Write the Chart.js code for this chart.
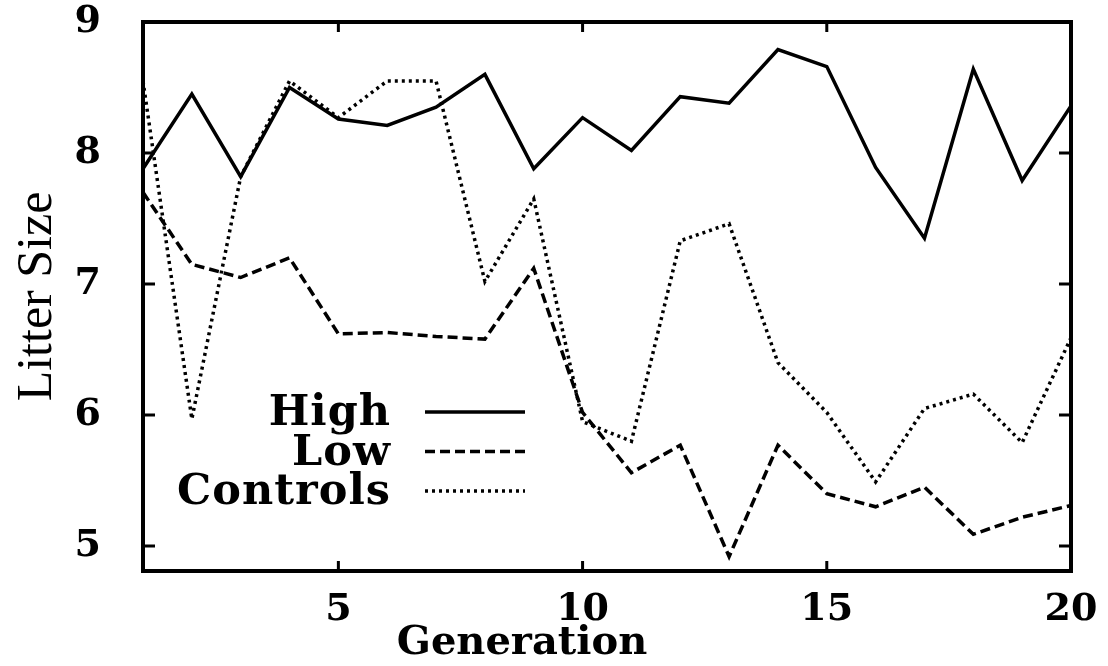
<!DOCTYPE html>
<html>
<head>
<meta charset="utf-8">
<script src="https://cdn.jsdelivr.net/npm/chart.js@4.4.1/dist/chart.umd.min.js"></script>
<style>
    body { margin: 0; background: #fff; }
</style>
</head>
<body>
<canvas id="grafico-litter" width="1108" height="666"></canvas>
<script>
var generazioni = [1, 2, 3, 4, 5, 6, 7, 8, 9, 10, 11, 12, 13, 14, 15, 16, 17, 18, 19, 20];
var high = [7.88, 8.45, 7.82, 8.5, 8.26, 8.21, 8.35, 8.6, 7.88, 8.27, 8.02, 8.43, 8.38, 8.79, 8.66, 7.89, 7.35, 8.64, 7.79, 8.36];
var low = [7.7, 7.15, 7.05, 7.2, 6.62, 6.63, 6.6, 6.58, 7.12, 6.02, 5.56, 5.77, 4.92, 5.77, 5.4, 5.3, 5.45, 5.09, 5.22, 5.31];
var controls = [8.55, 5.97, 7.82, 8.55, 8.27, 8.55, 8.55, 7.02, 7.65, 5.95, 5.8, 7.33, 7.46, 6.4, 6.02, 5.49, 6.05, 6.16, 5.79, 6.59];
var nomiSerie = ['High', 'Low', 'Controls'];
var tickX = [5, 10, 15, 20];
var tickY = [5, 6, 7, 8, 9];
var titoloX = 'Generation';
var titoloY = 'Litter Size';

var fontTick = { family: 'DejaVu Serif', size: 38, weight: 'bold' };

function punti(valori) {
    var lista = [];
    for (var i = 0; i < generazioni.length; i++) {
        lista.push({ x: generazioni[i], y: valori[i] });
    }
    return lista;
}

// cornice, tacche interne, titolo x e legenda come nel grafico gnuplot
var cornice = {
    id: 'cornice',
    afterDatasetsDraw: function (chart) {
        var ctx = chart.ctx;
        var a = chart.chartArea;
        var sx = chart.scales.x;
        var sy = chart.scales.y;
        ctx.save();
        ctx.strokeStyle = '#000';
        ctx.lineWidth = 4;
        ctx.setLineDash([]);
        ctx.strokeRect(a.left, a.top, a.right - a.left, a.bottom - a.top);
        ctx.lineWidth = 3;
        ctx.beginPath();
        for (var i = 0; i < tickX.length; i++) {
            var px = sx.getPixelForValue(tickX[i]);
            ctx.moveTo(px, a.bottom);
            ctx.lineTo(px, a.bottom - 10);
            ctx.moveTo(px, a.top);
            ctx.lineTo(px, a.top + 10);
        }
        for (var j = 0; j < tickY.length; j++) {
            var py = sy.getPixelForValue(tickY[j]);
            ctx.moveTo(a.left, py);
            ctx.lineTo(a.left + 12, py);
            ctx.moveTo(a.right, py);
            ctx.lineTo(a.right - 12, py);
        }
        ctx.stroke();

        ctx.fillStyle = '#000';
        ctx.textBaseline = 'middle';

        // titolo asse x, spostato a sinistra come nell'originale
        ctx.font = 'bold 40px "DejaVu Serif"';
        ctx.textAlign = 'center';
        ctx.fillText(titoloX, a.left + 379, a.bottom + 73);

        // legenda
        ctx.font = 'bold 43px "DejaVu Serif"';
        ctx.letterSpacing = '1px';
        ctx.textAlign = 'right';
        var xTesto = a.left + 248;
        var yPrima = a.top + 390;
        for (var k = 0; k < chart.data.datasets.length; k++) {
            var ds = chart.data.datasets[k];
            var y = yPrima + k * 39.5;
            ctx.fillText(ds.label, xTesto, y + 2);
            ctx.beginPath();
            ctx.lineWidth = ds.borderWidth;
            ctx.setLineDash(ds.borderDash || []);
            ctx.moveTo(xTesto + 34, y);
            ctx.lineTo(xTesto + 134, y);
            ctx.stroke();
        }
        ctx.restore();
    }
};

var ctx = document.getElementById('grafico-litter');
var grafico = new Chart(ctx, {
    type: 'line',
    data: {
        datasets: [{
            label: nomiSerie[0],
            data: punti(high),
            borderColor: '#000',
            borderWidth: 3.5,
            pointRadius: 0,
            tension: 0
        }, {
            label: nomiSerie[1],
            data: punti(low),
            borderColor: '#000',
            borderWidth: 3.5,
            borderDash: [10, 5],
            pointRadius: 0,
            tension: 0
        }, {
            label: nomiSerie[2],
            data: punti(controls),
            borderColor: '#000',
            borderWidth: 3.5,
            borderDash: [3, 4],
            pointRadius: 0,
            tension: 0
        }]
    },
    options: {
        responsive: false,
        animation: false,
        devicePixelRatio: 1,
        layout: { padding: { left: 8, top: 22, right: 37, bottom: 0 } },
        plugins: {
            legend: { display: false },
            tooltip: { enabled: false }
        },
        scales: {
            x: {
                type: 'linear',
                min: 1,
                max: 20,
                grid: { display: false },
                border: { display: false },
                afterBuildTicks: function (scale) {
                    scale.ticks = tickX.map(function (v) { return { value: v }; });
                },
                afterFit: function (scale) {
                    scale.height = 95;
                    scale.paddingLeft = 0;
                    scale.paddingRight = 0;
                },
                ticks: { font: fontTick, color: '#000', padding: 8, maxRotation: 0 },
                title: { display: false }
            },
            y: {
                min: 4.81,
                max: 9,
                grid: { display: false },
                border: { display: false },
                afterBuildTicks: function (scale) {
                    scale.ticks = tickY.map(function (v) { return { value: v }; });
                },
                afterFit: function (scale) {
                    scale.width = 135;
                    scale.paddingTop = 0;
                    scale.paddingBottom = 0;
                },
                ticks: { font: fontTick, color: '#000', padding: 34 },
                title: { display: true, text: titoloY, font: { family: 'Liberation Serif', size: 50 }, color: '#000', padding: 0 }
            }
        }
    },
    plugins: [cornice]
});
</script>
</body>
</html>
